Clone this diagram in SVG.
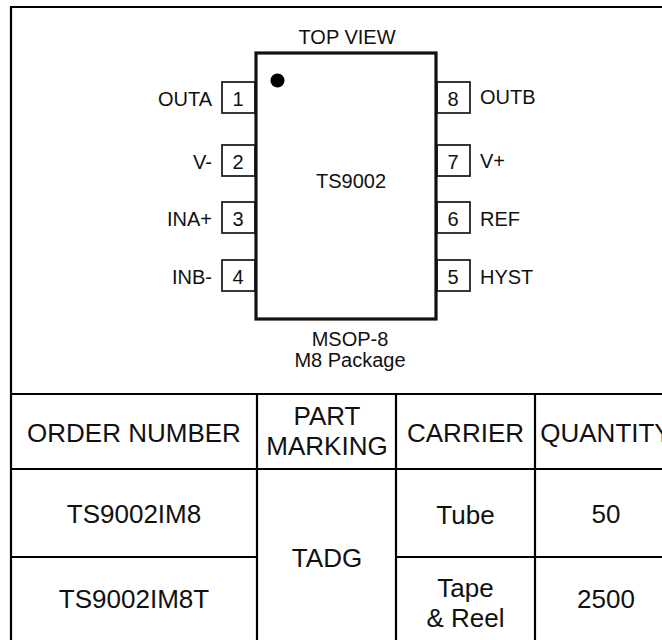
<svg xmlns="http://www.w3.org/2000/svg" width="662" height="640" viewBox="0 0 662 640">
  <style>
    .t { font-family: "Liberation Sans", Arial, sans-serif; fill: #111; }
    .lbl { font-size: 20px; }
    .tbl { font-size: 26px; text-anchor: middle; }
    .pin { fill: #fff; stroke: #222; stroke-width: 1.8; }
    .grid { stroke: #000; stroke-width: 2.2; fill: none; }
  </style>
  <rect x="0" y="0" width="662" height="640" fill="#fff"/>

  <g id="frame">
    <path class="grid" d="M11 640 V7 H662"/>
    <path class="grid" d="M11 394 H662"/>
  </g>

  <g id="chip">
    <text class="t lbl" x="347" y="44" text-anchor="middle">TOP VIEW</text>
    <g id="pins-left">
      <rect class="pin" x="222" y="82" width="33" height="31"/>
      <rect class="pin" x="222" y="145" width="33" height="31"/>
      <rect class="pin" x="222" y="202" width="33" height="31"/>
      <rect class="pin" x="222" y="260" width="33" height="31"/>
      <text class="t lbl" x="238" y="106" text-anchor="middle">1</text>
      <text class="t lbl" x="238" y="169" text-anchor="middle">2</text>
      <text class="t lbl" x="238" y="226" text-anchor="middle">3</text>
      <text class="t lbl" x="238" y="284" text-anchor="middle">4</text>
      <text class="t lbl" x="212" y="106" text-anchor="end">OUTA</text>
      <text class="t lbl" x="212" y="169" text-anchor="end">V-</text>
      <text class="t lbl" x="212" y="226" text-anchor="end">INA+</text>
      <text class="t lbl" x="212" y="284" text-anchor="end">INB-</text>
    </g>
    <g id="pins-right">
      <rect class="pin" x="437" y="82" width="33" height="31"/>
      <rect class="pin" x="437" y="145" width="33" height="31"/>
      <rect class="pin" x="437" y="202" width="33" height="31"/>
      <rect class="pin" x="437" y="260" width="33" height="31"/>
      <text class="t lbl" x="453" y="106" text-anchor="middle">8</text>
      <text class="t lbl" x="453" y="169" text-anchor="middle">7</text>
      <text class="t lbl" x="453" y="226" text-anchor="middle">6</text>
      <text class="t lbl" x="453" y="284" text-anchor="middle">5</text>
      <text class="t lbl" x="480" y="104">OUTB</text>
      <text class="t lbl" x="480" y="168">V+</text>
      <text class="t lbl" x="480" y="226">REF</text>
      <text class="t lbl" x="480" y="284">HYST</text>
    </g>
    <rect id="body" x="256" y="53" width="180" height="266" fill="#fff" stroke="#111" stroke-width="3.2"/>
    <circle cx="277.5" cy="80.5" r="7" fill="#000"/>
    <text class="t lbl" x="351" y="188" text-anchor="middle">TS9002</text>
    <text class="t lbl" x="350" y="346" text-anchor="middle">MSOP-8</text>
    <text class="t lbl" x="350" y="367" text-anchor="middle">M8 Package</text>
  </g>

  <g id="table-grid">
    <path class="grid" d="M11 469 H662 M11 557 H257 M396 557 H662 M257 394 V640 M396 394 V640 M535 394 V640"/>
  </g>

  <g id="table-header">
    <text class="t tbl" x="134" y="442">ORDER NUMBER</text>
    <text class="t tbl" x="327" y="425">PART</text>
    <text class="t tbl" x="327" y="455">MARKING</text>
    <text class="t tbl" x="465.5" y="442">CARRIER</text>
    <text class="t tbl" x="606" y="442">QUANTITY</text>
  </g>
  <g id="table-row1">
    <text class="t tbl" x="134" y="523">TS9002IM8</text>
    <text class="t tbl" x="465.5" y="524">Tube</text>
    <text class="t tbl" x="606" y="523">50</text>
  </g>
  <g id="table-merged">
    <text class="t tbl" x="327" y="567">TADG</text>
  </g>
  <g id="table-row2">
    <text class="t tbl" x="134" y="608">TS9002IM8T</text>
    <text class="t tbl" x="465.5" y="597">Tape</text>
    <text class="t tbl" x="465.5" y="627">&amp; Reel</text>
    <text class="t tbl" x="606" y="608">2500</text>
  </g>
</svg>
